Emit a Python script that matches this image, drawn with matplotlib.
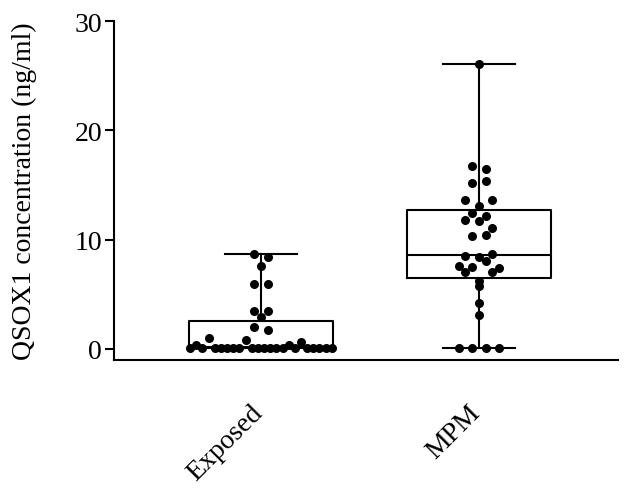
import matplotlib
matplotlib.use("Agg")
import matplotlib.pyplot as plt
import matplotlib.transforms as mtransforms
import numpy as np

groups = ["Exposed", "MPM"]

exposed = [8.7, 8.4, 7.6, 5.9, 5.9, 3.5, 3.5, 2.9, 2.0, 1.7,
           0.1, 0.35, 0.1, 1.0, 0.1, 0.1, 0.1, 0.1, 0.1, 0.8, 0.1, 0.1, 0.1,
           0.1, 0.1, 0.1, 0.35, 0.1, 0.6, 0.1, 0.1, 0.1, 0.1, 0.1]
mpm = [26.1, 16.7, 16.5, 15.2, 15.4, 13.6, 13.1, 13.6, 12.4, 12.2, 11.8, 11.7,
       11.1, 10.3, 10.4, 8.5, 8.4, 8.7, 7.6, 7.5, 8.0, 7.4, 7.0, 6.2, 7.0, 5.8,
       4.2, 3.1, 0.1, 0.1, 0.1, 0.1]

# box statistics
q1 = [0.1, 6.5]
medians = [0.15, 8.6]
q3 = [2.6, 12.7]
whis_lo = [0.1, 0.1]
whis_hi = [8.7, 26.1]

plt.rcParams['font.family'] = ['Liberation Serif', 'DejaVu Serif']

fig = plt.figure(figsize=(6.3, 4.89), dpi=100)
ax = fig.add_axes([0.181, 0.262, 0.8, 0.693])
xmin, xmax, ymin, ymax = -0.674, 1.638, -1, 30
ax.set_xlim(xmin, xmax)
ax.set_ylim(ymin, ymax)

stats = []
for i, g in enumerate(groups):
    stats.append({"label": g, "q1": q1[i], "med": medians[i], "q3": q3[i],
                  "whislo": whis_lo[i], "whishi": whis_hi[i], "fliers": []})

lw = 1.5
ax.bxp(stats, positions=[0, 1], widths=0.66, showfliers=False,
       boxprops=dict(color="black", linewidth=lw),
       medianprops=dict(color="black", linewidth=lw),
       whiskerprops=dict(color="black", linewidth=lw),
       capprops=dict(color="black", linewidth=lw),
       capwidths=0.33)

# scatter layout: points binned by value, each bin spread around the centre
bbox = ax.get_position()
px_x = bbox.width * fig.get_figwidth() * fig.dpi / (xmax - xmin)
step = 13.5 / px_x
bin_h = 1.0
max_w = 0.65


def spread(vals):
    bins = {}
    for k, v in enumerate(vals):
        bins.setdefault(int(np.floor((v - 0.05) / bin_h)), []).append(k)
    offs = np.zeros(len(vals))
    for r in bins.values():
        n = len(r)
        s = step if n < 2 else min(step, max_w / (n - 1))
        for j, k in enumerate(r):
            offs[k] = (j - (n - 1) / 2) * s
    return offs


for i, vals in enumerate([exposed, mpm]):
    ax.scatter(i + spread(vals), vals, s=6.5 ** 2, color="black", zorder=3,
               linewidths=0)

ax.set_yticks([0, 10, 20, 30])
ax.set_xticks([])
# rotated group names, anchored a little left of and below each group
offset = mtransforms.ScaledTranslation(-8 / 72, -29 / 72, fig.dpi_scale_trans)
for i, g in enumerate(groups):
    ax.text(i, 0, g, transform=ax.get_xaxis_transform() + offset,
            rotation=45, rotation_mode="anchor", ha="right", va="top",
            fontsize=20)
ax.tick_params(axis="y", labelsize=20, width=1.5, length=6.5, pad=2)
ax.set_ylabel("QSOX1 concentration (ng/ml)", fontsize=20, labelpad=27)
for s in ["top", "right"]:
    ax.spines[s].set_visible(False)
for s in ["left", "bottom"]:
    ax.spines[s].set_linewidth(1.5)

fig.savefig("out.png", dpi=100)
